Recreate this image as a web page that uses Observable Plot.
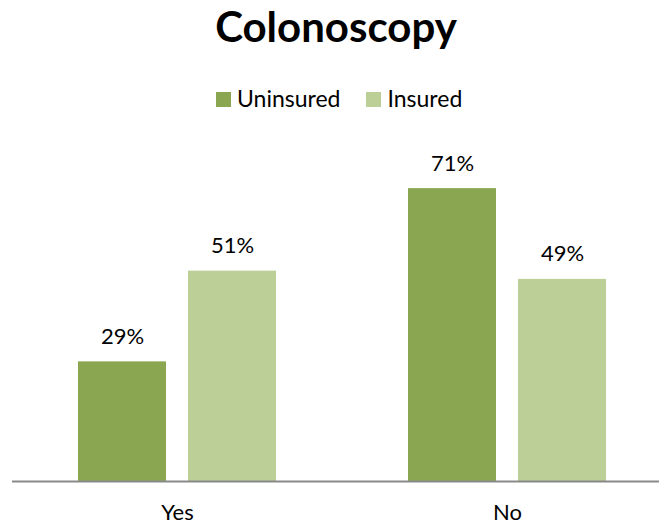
<!DOCTYPE html>
<html><head><meta charset="utf-8">
<script src="https://cdn.jsdelivr.net/npm/d3@7"></script>
<script src="https://cdn.jsdelivr.net/npm/@observablehq/plot@0.6"></script>
<style>
body{margin:0;background:#fff;font-family:Lato,"Open Sans",sans-serif;color:#000}
#wrap{position:relative;width:659px;height:529px;overflow:hidden}
#title{position:absolute;left:0;top:5px;width:659px;padding-left:13px;box-sizing:border-box;text-align:center;font-size:42px;line-height:1;font-weight:bold}
#legend{position:absolute;left:216px;top:87px;font-size:23px;line-height:1;white-space:nowrap}
#legend .sw{display:inline-block;width:15px;height:15px;vertical-align:baseline;margin-right:6px}
#legend .item{display:inline-block;margin-right:26px}
#chart{position:absolute;left:0;top:125px}
</style></head>
<body>
<div id="wrap">
<div id="title">Colonoscopy</div>
<div id="legend"></div>
<div id="chart"></div>
</div>
<script>
const groups = ["Yes", "No"];
const series = ["Uninsured", "Insured"];
const uninsured = [29, 71];
const insured = [51, 49];
const colors = ["#8aa650", "#bbcf97"];

const data = [];
groups.forEach((g, i) => {
  data.push({group: g, series: "Uninsured", value: uninsured[i]});
  data.push({group: g, series: "Insured", value: insured[i]});
});

const legend = document.getElementById("legend");
series.forEach((s, i) => {
  const item = document.createElement("span");
  item.className = "item";
  const sw = document.createElement("span");
  sw.className = "sw";
  sw.style.background = colors[i];
  item.appendChild(sw);
  item.appendChild(document.createTextNode(s));
  legend.appendChild(item);
});

const chart = Plot.plot({
  width: 659,
  height: 404,
  marginTop: 26,
  marginBottom: 48,
  marginLeft: 12,
  marginRight: 0,
  style: {fontFamily: "Lato, sans-serif", fontSize: "22px", color: "#000", background: "transparent"},
  fx: {domain: groups, range: [12, 672], padding: 0, label: null, axis: "bottom", tickSize: 0, tickPadding: 23},
  x: {domain: series, paddingInner: 0.2, paddingOuter: 0.6, axis: null},
  y: {domain: [0, 80], axis: null},
  color: {domain: series, range: colors},
  marks: [
    Plot.barY(data, {fx: "group", x: "series", y: "value", fill: "series"}),
    Plot.text(data, {fx: "group", x: "series", y: "value", text: d => d.value + "%", dy: -25, fill: "#000"}),
    Plot.ruleY([0], {stroke: "#898989", strokeWidth: 2})
  ]
});
document.getElementById("chart").appendChild(chart);
</script>
</body></html>
